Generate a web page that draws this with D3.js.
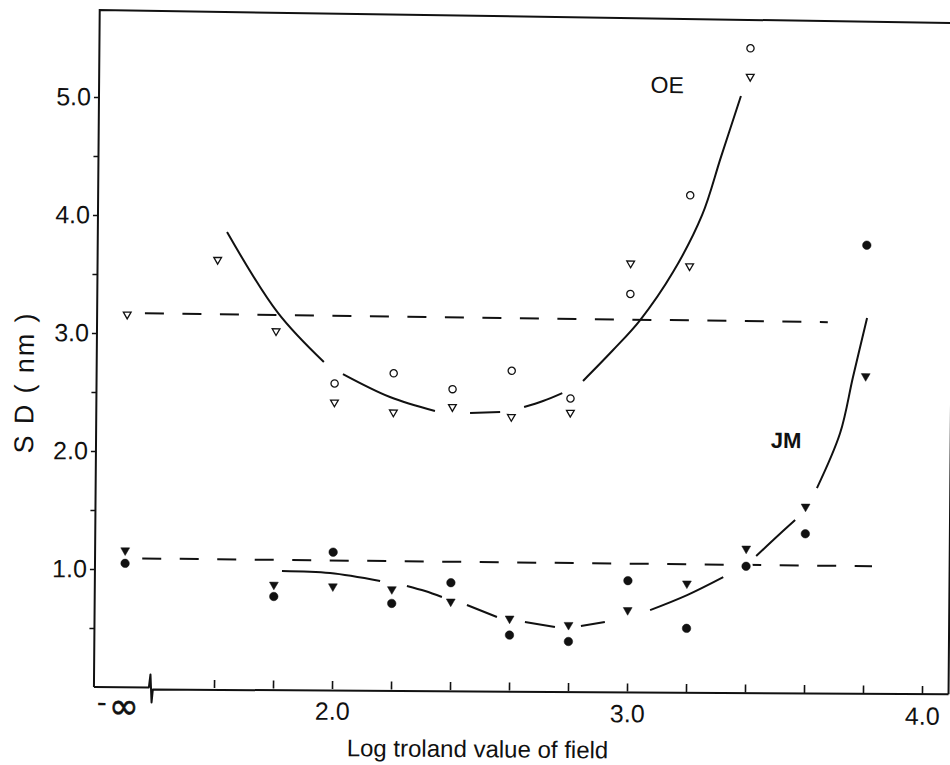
<!DOCTYPE html>
<html>
<head>
<meta charset="utf-8">
<script src="https://cdn.jsdelivr.net/npm/d3@7"></script>
<style>
  html, body { margin: 0; padding: 0; background: #fff; }
  svg { display: block; }
  text { font-family: 'Liberation Sans', Arial, sans-serif; fill: #111; }
</style>
</head>
<body>
<div id="chart"></div>
<script>
'use strict';

// log troland value of the field; -Infinity is the no-field condition
var oeX = [-Infinity, 1.6, 1.8, 2.0, 2.2, 2.4, 2.6, 2.8, 3.0, 3.2, 3.4];
var oeTriangles = [3.16, 3.63, 3.03, 2.43, 2.35, 2.40, 2.32, 2.36, 3.63, 3.61, 5.22];
var oeCircles = [null, null, null, 2.59, 2.68, 2.55, 2.71, 2.48, 3.37, 4.21, 5.46];

var jmX = [-Infinity, 1.8, 2.0, 2.2, 2.4, 2.6, 2.8, 3.0, 3.2, 3.4, 3.6, 3.8];
var jmTriangles = [1.16, 0.88, 0.87, 0.85, 0.75, 0.61, 0.56, 0.69, 0.92, 1.22, 1.58, 2.69];
var jmCircles = [1.05, 0.78, 1.16, 0.73, 0.91, 0.47, 0.42, 0.94, 0.54, 1.07, 1.35, 3.80];

// hand drawn fits, broken where they pass the symbols
var oeFit = [
  [[1.631, 3.865], [1.806, 3.183], [1.963, 2.770]],
  [[2.028, 2.670], [2.188, 2.479], [2.341, 2.364]],
  [[2.460, 2.349], [2.562, 2.359]],
  [[2.643, 2.404], [2.707, 2.456], [2.772, 2.525]],
  [[2.842, 2.629], [2.943, 2.893], [3.034, 3.149], [3.144, 3.558], [3.241, 4.044], [3.303, 4.536], [3.369, 5.055]]
];
var jmFit = [
  [[1.827, 0.997], [1.990, 0.983], [2.160, 0.919]],
  [[2.251, 0.879], [2.313, 0.837], [2.370, 0.788]],
  [[2.455, 0.722], [2.557, 0.622]],
  [[2.652, 0.582], [2.754, 0.542]],
  [[2.842, 0.552], [2.923, 0.587]],
  [[3.076, 0.692], [3.201, 0.822], [3.323, 0.977]],
  [[3.434, 1.158], [3.495, 1.303], [3.565, 1.466]],
  [[3.638, 1.738], [3.715, 2.206], [3.757, 2.682], [3.803, 3.183]]
];

// no-field levels (dashed)
var oeDark = [[1.355, 3.17], [3.67, 3.145]];
var jmDark = [[1.353, 1.093], [3.827, 1.08]];

var xTicks = [1.6, 1.8, 2.0, 2.2, 2.4, 2.6, 2.8, 3.0, 3.2, 3.4, 3.6, 3.8, 4.0];
var xTickLabels = ['2.0', '3.0', '4.0'];
var yTicks = [0.5, 1.0, 1.5, 2.0, 2.5, 3.0, 3.5, 4.0, 4.5, 5.0];
var yTickLabels = ['1.0', '2.0', '3.0', '4.0', '5.0'];

var width = 950,
    height = 765;

// where -inf sits on the broken axis, and the break itself
var negInfAt = 1.295,
    breakAt = 1.386,
    xMin = 1.193,
    xMax = 4.09;

var x = d3.scaleLinear().domain([2, 4]).range([332, 922]);
var y = d3.scaleLinear().domain([0, 5]).range([687, 97]);

function px(v) { return isFinite(v) ? x(v) : x(negInfAt); }

var svg = d3.select('#chart').append('svg')
    .attr('width', width)
    .attr('height', height);

// the scanned figure sits a little askew
var g = svg.append('g')
    .attr('transform', 'rotate(0.49,' + x(xMin) + ',' + y(0) + ')');

// frame: left axis, top and right edges
g.append('path')
  .attr('d', d3.line()([
    [x(xMin), y(0)], [x(xMin), y(5.737)], [x(xMax), y(5.689)], [x(xMax), y(0)]
  ]))
  .attr('fill', 'none')
  .attr('stroke', '#111')
  .attr('stroke-width', 2);

// bottom axis with the break between -inf and the log scale
var b = x(breakAt), y0 = y(0);
g.append('path')
  .attr('d', 'M' + x(xMin) + ',' + y0 + 'L' + (b - 2) + ',' + y0 +
    'L' + (b - 0.5) + ',' + (y0 - 13) + 'L' + (b + 0.8) + ',' + (y0 + 15) +
    'L' + (b + 2) + ',' + (y0 + 2) + 'L' + x(xMax) + ',' + y0)
  .attr('fill', 'none')
  .attr('stroke', '#111')
  .attr('stroke-width', 2)
  .attr('stroke-linejoin', 'round');

var xAxis = g.append('g')
    .attr('transform', 'translate(0,' + y0 + ')')
    .call(d3.axisBottom(x)
      .tickValues(xTicks)
      .tickSize(-8)
      .tickFormat(function(d) {
        var s = d.toFixed(1);
        return xTickLabels.indexOf(s) >= 0 ? s : '';
      }));
xAxis.select('.domain').remove();
xAxis.selectAll('line').attr('stroke', '#111').attr('stroke-width', 1.6);
xAxis.selectAll('text')
  .attr('y', 13)
  .attr('dy', '0.71em')
  .style('font-size', '25px')
  .style('font-family', "'Liberation Sans', Arial, sans-serif")
  .attr('fill', '#111');

// -inf label, the infinity sign is drawn large in the original
g.append('text')
  .attr('x', px(-Infinity) - 22)
  .attr('y', y0 + 25)
  .attr('text-anchor', 'middle')
  .style('font-size', '30px')
  .text('-');
g.append('text')
  .attr('x', px(-Infinity))
  .attr('y', y0 + 31)
  .attr('text-anchor', 'middle')
  .style('font-family', "'DejaVu Sans', sans-serif")
  .style('font-size', '36px')
  .attr('stroke', '#111')
  .attr('stroke-width', 0.6)
  .text('\u221e');

var yAxis = g.append('g')
    .attr('transform', 'translate(' + x(xMin) + ',0)')
    .call(d3.axisLeft(y)
      .tickValues(yTicks)
      .tickSize(5)
      .tickPadding(3)
      .tickFormat(function(d) {
        var s = d.toFixed(1);
        return yTickLabels.indexOf(s) >= 0 ? s : '';
      }));
yAxis.select('.domain').remove();
yAxis.selectAll('line').attr('stroke', '#111').attr('stroke-width', 1.6);
yAxis.selectAll('text')
  .style('font-size', '25px')
  .style('font-family', "'Liberation Sans', Arial, sans-serif")
  .attr('fill', '#111');

// axis titles
g.append('text')
  .attr('x', 478)
  .attr('y', 754)
  .attr('text-anchor', 'middle')
  .style('font-size', '24px')
  .text('Log troland value of field');

g.append('text')
  .attr('transform', 'translate(31,384) rotate(-90)')
  .attr('text-anchor', 'middle')
  .attr('textLength', 140)
  .attr('lengthAdjust', 'spacing')
  .style('font-size', '27px')
  .text('S D ( nm )');

// dashed no-field levels
var straight = d3.line()
    .x(function(d) { return px(d[0]); })
    .y(function(d) { return y(d[1]); });

[oeDark, jmDark].forEach(function(line) {
  g.append('path')
    .attr('d', straight(line))
    .attr('fill', 'none')
    .attr('stroke', '#111')
    .attr('stroke-width', 2)
    .attr('stroke-dasharray', '19,18.5');
});

// fitted curves
var smooth = d3.line()
    .x(function(d) { return x(d[0]); })
    .y(function(d) { return y(d[1]); })
    .curve(d3.curveCatmullRom.alpha(0.5));

oeFit.concat(jmFit).forEach(function(seg) {
  g.append('path')
    .attr('d', smooth(seg))
    .attr('fill', 'none')
    .attr('stroke', '#111')
    .attr('stroke-width', 2)
    .attr('stroke-linecap', 'butt');
});

// symbols
function points(xs, ys) {
  var out = [];
  xs.forEach(function(v, i) {
    if (ys[i] !== null && ys[i] !== undefined) { out.push([v, ys[i]]); }
  });
  return out;
}

var layers = [
  { data: points(oeX, oeTriangles), type: d3.symbolTriangle, size: 26, flip: true, filled: false },
  { data: points(oeX, oeCircles), type: d3.symbolCircle, size: 41, flip: false, filled: false },
  { data: points(jmX, jmTriangles), type: d3.symbolTriangle, size: 34, flip: true, filled: true },
  { data: points(jmX, jmCircles), type: d3.symbolCircle, size: 57, flip: false, filled: true }
];

function place(d, flip) {
  return 'translate(' + px(d[0]) + ',' + y(d[1]) + ')' + (flip ? ' rotate(180)' : '');
}

// white halos first so lines break around the marks
layers.forEach(function(layer) {
  g.selectAll(null)
    .data(layer.data)
    .enter()
    .append('path')
    .attr('d', d3.symbol().type(layer.type).size(layer.size))
    .attr('transform', function(d) { return place(d, layer.flip); })
    .attr('fill', '#fff')
    .attr('stroke', '#fff')
    .attr('stroke-width', 5);
});

layers.forEach(function(layer) {
  g.selectAll(null)
    .data(layer.data)
    .enter()
    .append('path')
    .attr('d', d3.symbol().type(layer.type).size(layer.size))
    .attr('transform', function(d) { return place(d, layer.flip); })
    .attr('fill', layer.filled ? '#111' : '#fff')
    .attr('stroke', '#111')
    .attr('stroke-width', layer.filled ? 0.5 : 1.3);
});

// series labels
g.append('text')
  .attr('x', x(3.119))
  .attr('y', y(5.076))
  .attr('text-anchor', 'middle')
  .style('font-size', '23px')
  .text('OE');

g.append('text')
  .attr('x', x(3.532))
  .attr('y', y(2.076))
  .attr('text-anchor', 'middle')
  .style('font-size', '22px')
  .style('font-weight', 'bold')
  .text('JM');
</script>
</body>
</html>
